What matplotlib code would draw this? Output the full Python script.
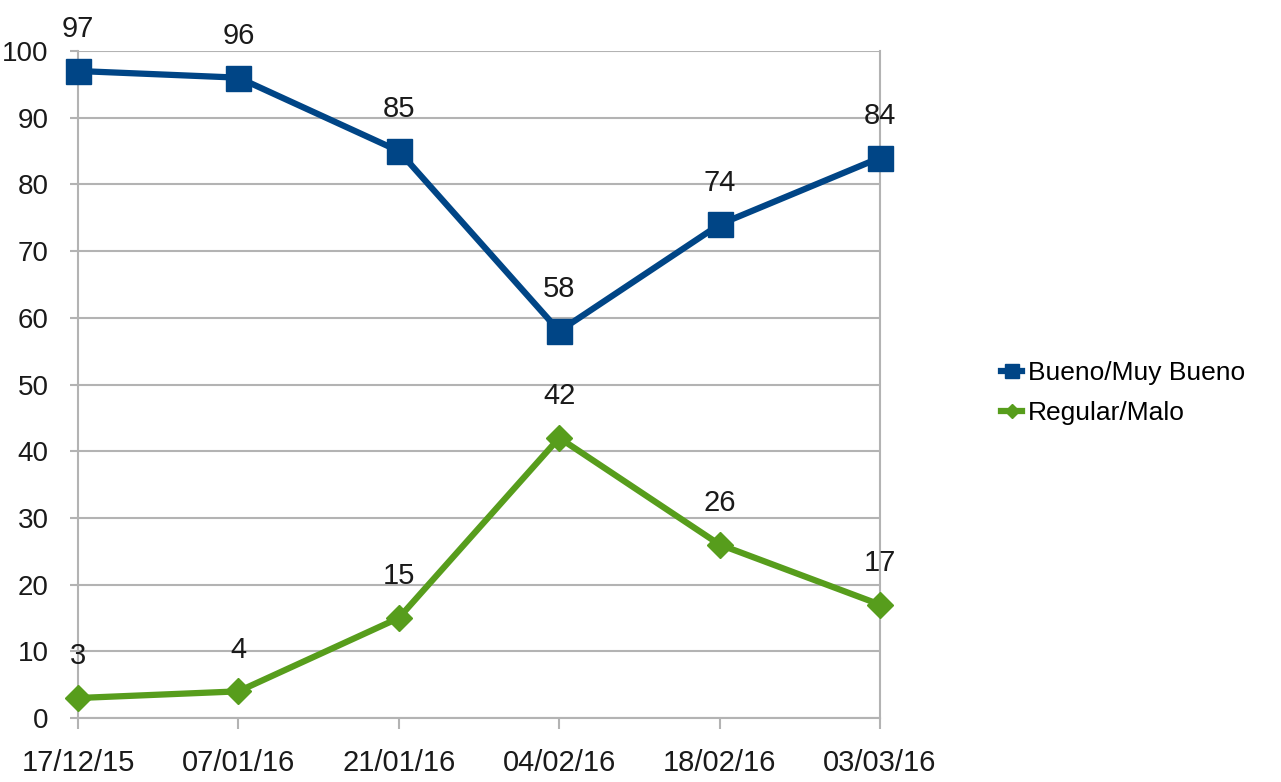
import matplotlib
matplotlib.use('Agg')
import matplotlib.pyplot as plt

fechas = ['17/12/15', '07/01/16', '21/01/16', '04/02/16', '18/02/16', '03/03/16']
bueno = [97, 96, 85, 58, 74, 84]
regular = [3, 4, 15, 42, 26, 17]
series_names = ['Bueno/Muy Bueno', 'Regular/Malo']

plt.rcParams['font.family'] = ['Liberation Sans Narrow', 'Liberation Sans', 'DejaVu Sans']

azul = '#004586'
verde = '#579d1c'
gris = '#b3b3b3'

fig = plt.figure(figsize=(12.81, 7.82), dpi=100)
ax = fig.add_axes([0.0609, 0.0818, 0.6261, 0.853])

x = list(range(len(fechas)))
l1, = ax.plot(x, bueno, color=azul, lw=4.5, marker='s', ms=18, label=series_names[0], clip_on=False, zorder=3)
l2, = ax.plot(x, regular, color=verde, lw=4.5, marker='D', ms=13, label=series_names[1], clip_on=False, zorder=3)

for vals in [bueno, regular]:
    for xi, v in zip(x, vals):
        ax.annotate(str(v), (xi, v), xytext=(0, 30), textcoords='offset points',
                    ha='center', va='center', fontsize=21, color='#1a1a1a')

ax.set_xlim(0, len(fechas) - 1)
ax.set_ylim(0, 100)
ax.set_yticks(range(0, 101, 10))
ax.set_xticks(x)
ax.set_xticklabels(fechas)
ax.yaxis.grid(True, color=gris, lw=1.5)
ax.set_axisbelow(True)
for s in ['left', 'right', 'top', 'bottom']:
    ax.spines[s].set_color(gris)
    ax.spines[s].set_linewidth(1.5)
ax.spines['top'].set_visible(False)
ax.tick_params(axis='both', colors=gris, labelcolor='#1a1a1a', labelsize=21, width=1.5)
ax.tick_params(axis='x', length=8, pad=14)
ax.tick_params(axis='y', length=6, pad=15, labelsize=20)

leg = fig.legend(handles=[l1, l2], loc='center left', bbox_to_anchor=(0.763, 0.497),
                 frameon=False, fontsize=19, handlelength=0.8, handletextpad=0.2,
                 labelspacing=0.6, markerscale=0.55)

fig.savefig('out.png', dpi=100)
